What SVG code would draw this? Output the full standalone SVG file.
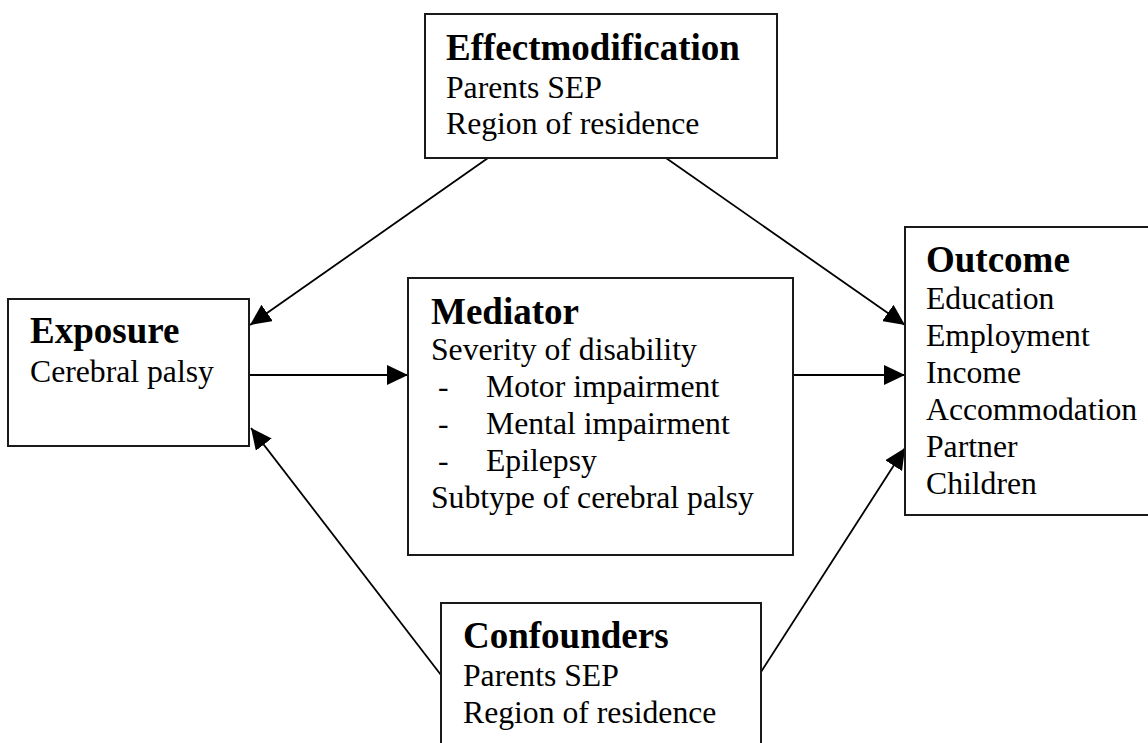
<svg xmlns="http://www.w3.org/2000/svg" width="1148" height="743" viewBox="0 0 1148 743">
<style>
.box{fill:#fff;stroke:#1a1a1a;stroke-width:2}
.h{font-family:"Liberation Serif",serif;font-weight:bold;font-size:37px;fill:#000}
.t{font-family:"Liberation Serif",serif;font-size:31.7px;fill:#000}
.c{stroke:#000;stroke-width:1.8;fill:none;marker-end:url(#ah)}
</style>
<defs>
<marker id="ah" markerUnits="userSpaceOnUse" markerWidth="22" markerHeight="20" refX="21" refY="10" orient="auto">
<path d="M0,0 L21,10 L0,20 z" fill="#000"/>
</marker>
</defs>
<rect width="1148" height="743" fill="#fff"/>
<g id="connectors">
<line class="c" x1="488" y1="158" x2="250" y2="325"/>
<line class="c" x1="666" y1="158" x2="905" y2="325"/>
<line class="c" x1="249" y1="375" x2="408" y2="375"/>
<line class="c" x1="793" y1="375" x2="905" y2="375"/>
<line class="c" x1="441" y1="675" x2="251" y2="428"/>
<line class="c" x1="761" y1="672" x2="905" y2="448"/>
</g>
<g id="effectmodification">
<rect class="box" x="425" y="14" width="352" height="144"/>
<text class="h" x="446" y="60">Effectmodification</text>
<text class="t" x="446" y="98">Parents SEP</text>
<text class="t" x="446" y="134">Region of residence</text>
</g>
<g id="exposure">
<rect class="box" x="8" y="299" width="241" height="147"/>
<text class="h" x="30" y="343">Exposure</text>
<text class="t" x="30" y="382">Cerebral palsy</text>
</g>
<g id="mediator">
<rect class="box" x="408" y="278" width="385" height="277"/>
<text class="h" x="431" y="324">Mediator</text>
<text class="t" x="431" y="360">Severity of disability</text>
<text class="t" x="438" y="397">-</text>
<text class="t" x="486" y="397">Motor impairment</text>
<text class="t" x="438" y="434">-</text>
<text class="t" x="486" y="434">Mental impairment</text>
<text class="t" x="438" y="471">-</text>
<text class="t" x="486" y="471">Epilepsy</text>
<text class="t" x="431" y="508">Subtype of cerebral palsy</text>
</g>
<g id="outcome">
<rect class="box" x="905" y="227" width="250" height="288"/>
<text class="h" x="926" y="272">Outcome</text>
<text class="t" x="926" y="309">Education</text>
<text class="t" x="926" y="346">Employment</text>
<text class="t" x="926" y="383">Income</text>
<text class="t" x="926" y="420">Accommodation</text>
<text class="t" x="926" y="457">Partner</text>
<text class="t" x="926" y="494">Children</text>
</g>
<g id="confounders">
<rect class="box" x="441" y="603" width="320" height="160"/>
<text class="h" x="463" y="648">Confounders</text>
<text class="t" x="463" y="686">Parents SEP</text>
<text class="t" x="463" y="723">Region of residence</text>
</g>
</svg>
